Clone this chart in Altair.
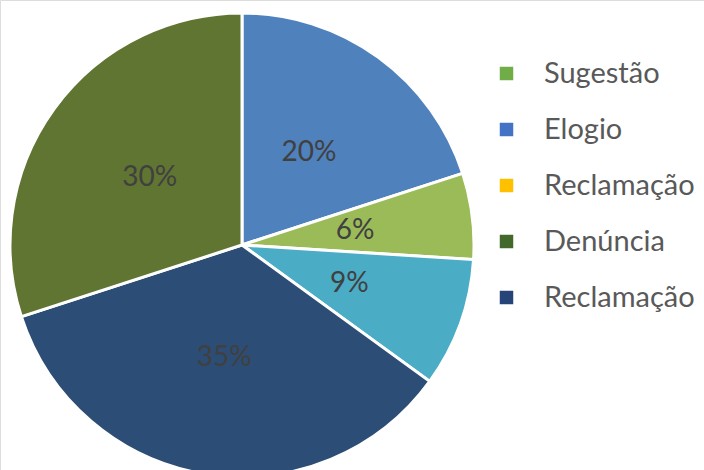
import altair as alt
import pandas as pd

# Pie slices (clockwise from 12 o'clock)
slice_labels = ["20%", "6%", "9%", "35%", "30%"]
slice_values = [20, 6, 9, 35, 30]
slice_colors = ["#4F81BD", "#9BBB59", "#4BACC6", "#2C4D75", "#607531"]

# Legend entries (as shown in the reference)
legend_labels = ["Sugestão", "Elogio", "Reclamação", "Denúncia", "Reclamação "]
legend_colors = ["#70AD47", "#4472C4", "#FFC000", "#43682B", "#264478"]

pie_df = pd.DataFrame({
    "idx": list(range(len(slice_values))),
    "value": slice_values,
    "label": slice_labels,
    "color": slice_colors,
})
leg_df = pd.DataFrame({"cat": legend_labels})

CX, CY, R = 242, 245, 232

base = alt.Chart(pie_df).encode(
    theta=alt.Theta("value:Q", stack=True),
    order=alt.Order("idx:Q"),
    x=alt.value(CX),
    y=alt.value(CY),
)

arcs = base.mark_arc(radius=R, stroke="white", strokeWidth=3).encode(
    color=alt.Color("color:N", scale=None)
)

labels = base.mark_text(radius=114, fontSize=28, font="Lato", color="#404040").encode(
    text="label:N"
)

legend_layer = alt.Chart(leg_df).mark_square(size=0, opacity=0).encode(
    color=alt.Color(
        "cat:N",
        scale=alt.Scale(domain=legend_labels, range=legend_colors),
        legend=alt.Legend(
            title=None,
            orient="none",
            legendX=492,
            legendY=59,
            symbolType="square",
            symbolSize=182,
            symbolOpacity=1,
            symbolStrokeWidth=0,
            labelFont="Lato",
            labelFontSize=29,
            labelColor="#595959",
            labelOffset=23,
            rowPadding=26,
            padding=0,
            labelLimit=300,
        ),
    )
)

chart = (
    alt.layer(arcs, labels, legend_layer)
    .resolve_scale(color="independent")
    .properties(width=704, height=470, padding=0, autosize=alt.AutoSizeParams(type="none"))
    .configure_view(stroke=None)
    .configure(background="white")
)

chart.save("out.html", embed_options={"renderer": "svg", "actions": False})
